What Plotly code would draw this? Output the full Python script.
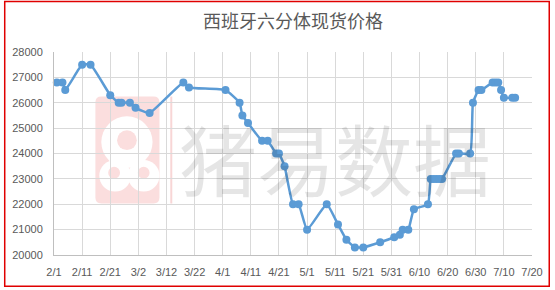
import plotly.graph_objects as go

# ---- data ----
dates = ["2024-02-02", "2024-02-04", "2024-02-05", "2024-02-11", "2024-02-14", "2024-02-21",
         "2024-02-24", "2024-02-25", "2024-02-28", "2024-03-01", "2024-03-06", "2024-03-18",
         "2024-03-20", "2024-04-02", "2024-04-07", "2024-04-08", "2024-04-10", "2024-04-15",
         "2024-04-17", "2024-04-20", "2024-04-21", "2024-04-23", "2024-04-26", "2024-04-28",
         "2024-05-01", "2024-05-08", "2024-05-12", "2024-05-15", "2024-05-18", "2024-05-21",
         "2024-05-27", "2024-06-01", "2024-06-03", "2024-06-04", "2024-06-06", "2024-06-08",
         "2024-06-13", "2024-06-14", "2024-06-15", "2024-06-16", "2024-06-17", "2024-06-18",
         "2024-06-23", "2024-06-24", "2024-06-28", "2024-06-29", "2024-07-01", "2024-07-02",
         "2024-07-06", "2024-07-07", "2024-07-08", "2024-07-09", "2024-07-10", "2024-07-13",
         "2024-07-14"]
prices = [26800, 26800, 26500, 27500, 27500, 26300,
          26000, 26000, 26000, 25800, 25600, 26800,
          26600, 26500, 26000, 25500, 25200, 24500,
          24500, 24000, 24000, 23500, 22000, 22000,
          21000, 22000, 21200, 20600, 20300, 20300,
          20500, 20700, 20800, 21000, 21000, 21800,
          22000, 23000, 23000, 23000, 23000, 23000,
          24000, 24000, 24000, 26000, 26500, 26500,
          26800, 26800, 26800, 26500, 26200, 26200,
          26200]
tick_dates = ["2024-02-01", "2024-02-11", "2024-02-21", "2024-03-02", "2024-03-12", "2024-03-22",
              "2024-04-01", "2024-04-11", "2024-04-21", "2024-05-01", "2024-05-11", "2024-05-21",
              "2024-05-31", "2024-06-10", "2024-06-20", "2024-06-30", "2024-07-10", "2024-07-20"]
tick_labels = ["2/1", "2/11", "2/21", "3/2", "3/12", "3/22", "4/1", "4/11", "4/21", "5/1",
               "5/11", "5/21", "5/31", "6/10", "6/20", "6/30", "7/10", "7/20"]
title_text = "西班牙六分体现货价格"
watermark_text = "猪易数据"

# ---- layout geometry ----
W, H = 555, 290
ML, MR, MT, MB = 51, 19, 52, 33
L, R, T, B = ML, W - MR, MT, H - MB


def px(x):
    return (x - L) / (R - L)


def py(y):
    return (B - y) / (B - T)


line_color = "#5B9BD5"

fig = go.Figure()
fig.add_trace(go.Scatter(
    x=dates, y=prices, mode="lines+markers",
    line=dict(color=line_color, width=2.5, shape="spline", smoothing=0.4),
    marker=dict(color=line_color, size=8),
    showlegend=False, cliponaxis=False,
))

shapes = []


def circle(cx, cy, r, color):
    return dict(type="circle", xref="paper", yref="paper", layer="below",
                x0=px(cx - r), x1=px(cx + r), y0=py(cy + r), y1=py(cy - r),
                fillcolor=color, line=dict(width=0))


# logo rounded rectangle
x0, x1, y0, y1, rr = 93, 158, 97, 205, 6
path = (f"M {px(x0 + rr)},{py(y0)} L {px(x1 - rr)},{py(y0)} Q {px(x1)},{py(y0)} {px(x1)},{py(y0 + rr)} "
        f"L {px(x1)},{py(y1 - rr)} Q {px(x1)},{py(y1)} {px(x1 - rr)},{py(y1)} "
        f"L {px(x0 + rr)},{py(y1)} Q {px(x0)},{py(y1)} {px(x0)},{py(y1 - rr)} "
        f"L {px(x0)},{py(y0 + rr)} Q {px(x0)},{py(y0)} {px(x0 + rr)},{py(y0)} Z")
pink = "#FBDEDE"
shapes.append(dict(type="path", path=path, xref="paper", yref="paper", layer="below",
                   fillcolor=pink, line=dict(width=0)))
shapes.append(circle(125, 143, 26, "white"))
shapes.append(circle(113, 177, 16, "white"))
shapes.append(circle(142, 177, 16, "white"))
shapes.append(circle(125, 141, 10, pink))
shapes.append(circle(112, 174, 6, pink))
shapes.append(circle(142, 174, 6, pink))
shapes.append(dict(type="line", xref="paper", yref="paper", layer="below",
                   x0=px(170), x1=px(170), y0=py(97), y1=py(205),
                   line=dict(color="#F8D6D6", width=2)))
# outer red border
shapes.append(dict(type="rect", xref="paper", yref="paper", layer="above",
                   x0=px(1), x1=px(553.5), y0=py(288.5), y1=py(1),
                   line=dict(color="#E00000", width=1.5), fillcolor="rgba(0,0,0,0)"))

annotations = [dict(
    text=watermark_text, xref="paper", yref="paper", x=px(336), y=py(158),
    xanchor="center", yanchor="middle", showarrow=False,
    font=dict(size=78, color="rgba(0,0,0,0.10)", family="Noto Sans CJK SC"))]

fig.update_layout(
    width=W, height=H,
    margin=dict(l=ML, r=MR, t=MT, b=MB, pad=0),
    paper_bgcolor="white", plot_bgcolor="white",
    title=dict(text=title_text, x=0.5, xref="paper", xanchor="center",
               y=1 - 22 / H, yref="container", yanchor="middle",
               font=dict(size=18, color="#595959", family="Noto Sans CJK SC")),
    xaxis=dict(
        range=["2024-02-01", "2024-07-20"], tickmode="array",
        tickvals=tick_dates, ticktext=tick_labels,
        showgrid=True, gridcolor="#D9D9D9", gridwidth=1,
        showline=True, linecolor="#BFBFBF", linewidth=1,
        ticks="", ticklabelstandoff=7, zeroline=False,
        tickfont=dict(size=11, color="#595959", family="Liberation Sans"),
    ),
    yaxis=dict(
        range=[20000, 28000], dtick=1000, tick0=20000, tickformat="d",
        showgrid=True, gridcolor="#D9D9D9", gridwidth=1,
        showline=True, linecolor="#BFBFBF", linewidth=1,
        ticks="", ticklabelstandoff=8, zeroline=False,
        tickfont=dict(size=11, color="#595959", family="Liberation Sans"),
    ),
    shapes=shapes, annotations=annotations,
)

fig.write_html("out.html")
